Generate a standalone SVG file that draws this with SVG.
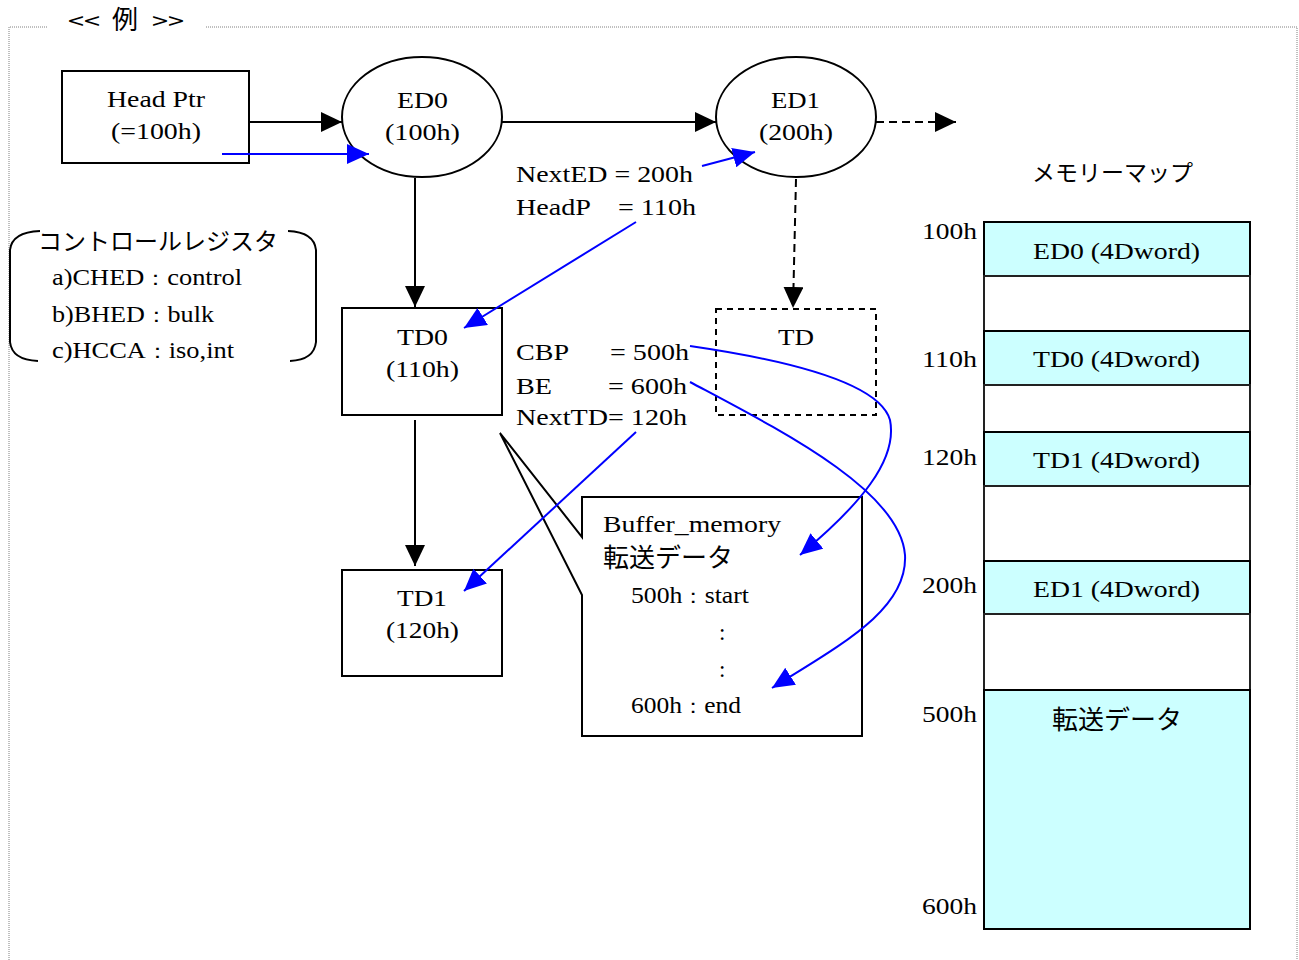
<svg xmlns="http://www.w3.org/2000/svg" width="1299" height="960" viewBox="0 0 1299 960">
<style>
.t{font-family:"Liberation Serif","Times New Roman",serif;font-size:23px;fill:#000}
.j{font-family:"Noto Sans CJK JP",sans-serif;fill:#000}
.c{font-size:20px}
.box{fill:#fff;stroke:#000;stroke-width:2}
.dbox{fill:none;stroke:#000;stroke-width:2;stroke-dasharray:6,5}
.bl{fill:none;stroke:#000;stroke-width:2}
.bu{fill:none;stroke:#0000ff;stroke-width:2}
.cy{fill:#ccffff;stroke:#000;stroke-width:2}
.wh{fill:#fff;stroke:#222;stroke-width:2}
</style>
<defs>
<marker id="ab" viewBox="0 0 21 20" refX="21" refY="10" markerWidth="21" markerHeight="20" markerUnits="userSpaceOnUse" orient="auto"><path d="M0,0 L21,10 L0,20 Z" fill="#000"/></marker>
<marker id="au" viewBox="0 0 22 20" refX="22" refY="10" markerWidth="22" markerHeight="20" markerUnits="userSpaceOnUse" orient="auto"><path d="M0,0 L22,10 L0,20 Z" fill="#0000ff"/></marker>
</defs>
<rect width="1299" height="960" fill="#fff"/>
<g id="frame">
<path d="M9,960 V27 H48 M206,27 H1297 V960" fill="none" stroke="#808080" stroke-width="1" stroke-dasharray="1,1"/>
<text class="j" x="68" y="29" font-size="22" textLength="32" lengthAdjust="spacingAndGlyphs">&lt;&lt;</text>
<text class="j" x="112" y="29" font-size="26">例</text>
<text class="j" x="152" y="29" font-size="22" textLength="32" lengthAdjust="spacingAndGlyphs">&gt;&gt;</text>
</g>
<g id="legend">
<path class="bl" d="M40,231 Q12,232 10,250 L10,342 Q12,360 38,361 M288,231 Q314,232 316,250 L316,342 Q314,360 290,361"/>
<text class="j" x="38" y="250" font-size="24">コントロールレジスタ</text>
<text class="t" x="52" y="285" textLength="190" lengthAdjust="spacingAndGlyphs">a)CHED<tspan class="c">：</tspan>control</text>
<text class="t" x="52" y="322" textLength="162" lengthAdjust="spacingAndGlyphs">b)BHED<tspan class="c">：</tspan>bulk</text>
<text class="t" x="52" y="358" textLength="182" lengthAdjust="spacingAndGlyphs">c)HCCA<tspan class="c">：</tspan>iso,int</text>
</g>
<g id="headptr">
<rect class="box" x="62" y="71" width="187" height="92"/>
<text class="t" x="107" y="107" textLength="98" lengthAdjust="spacingAndGlyphs">Head Ptr</text>
<text class="t" x="111" y="139" textLength="90" lengthAdjust="spacingAndGlyphs">(=100h)</text>
</g>
<g id="ed0">
<ellipse class="box" cx="422" cy="117" rx="80" ry="60"/>
<text class="t" x="397" y="108" textLength="51" lengthAdjust="spacingAndGlyphs">ED0</text>
<text class="t" x="385" y="140" textLength="75" lengthAdjust="spacingAndGlyphs">(100h)</text>
</g>
<g id="ed1">
<ellipse class="box" cx="796" cy="117" rx="80" ry="60"/>
<text class="t" x="771" y="108" textLength="49" lengthAdjust="spacingAndGlyphs">ED1</text>
<text class="t" x="759" y="140" textLength="74" lengthAdjust="spacingAndGlyphs">(200h)</text>
</g>
<g id="td0">
<rect class="box" x="342" y="308" width="160" height="107"/>
<text class="t" x="397" y="345" textLength="51" lengthAdjust="spacingAndGlyphs">TD0</text>
<text class="t" x="386" y="377" textLength="73" lengthAdjust="spacingAndGlyphs">(110h)</text>
</g>
<g id="td1">
<rect class="box" x="342" y="570" width="160" height="106"/>
<text class="t" x="397" y="606" textLength="50" lengthAdjust="spacingAndGlyphs">TD1</text>
<text class="t" x="386" y="638" textLength="73" lengthAdjust="spacingAndGlyphs">(120h)</text>
</g>
<g id="td">
<rect class="dbox" x="716" y="309" width="160" height="106"/>
<text class="t" x="778" y="345" textLength="36" lengthAdjust="spacingAndGlyphs">TD</text>
</g>
<g id="fields">
<text class="t" x="516" y="182" textLength="177" lengthAdjust="spacingAndGlyphs">NextED = 200h</text>
<text class="t" x="516" y="215" textLength="75" lengthAdjust="spacingAndGlyphs">HeadP</text>
<text class="t" x="618" y="215" textLength="78" lengthAdjust="spacingAndGlyphs">= 110h</text>
<text class="t" x="516" y="360" textLength="53" lengthAdjust="spacingAndGlyphs">CBP</text>
<text class="t" x="610" y="360" textLength="79" lengthAdjust="spacingAndGlyphs">= 500h</text>
<text class="t" x="516" y="394" textLength="36" lengthAdjust="spacingAndGlyphs">BE</text>
<text class="t" x="608" y="394" textLength="79" lengthAdjust="spacingAndGlyphs">= 600h</text>
<text class="t" x="516" y="425" textLength="171" lengthAdjust="spacingAndGlyphs">NextTD= 120h</text>
</g>
<g id="buffer">
<path class="box" d="M582,497 H862 V736 H582 V595 L500,433 L582,537 Z"/>
<text class="t" x="603" y="532" textLength="178" lengthAdjust="spacingAndGlyphs">Buffer_memory</text>
<text class="j" x="603" y="567" font-size="26">転送データ</text>
<text class="t" x="631" y="603" textLength="118" lengthAdjust="spacingAndGlyphs">500h<tspan class="c">：</tspan>start</text>
<text class="t" x="719" y="640" font-size="26">:</text>
<text class="t" x="719" y="677" font-size="26">:</text>
<text class="t" x="631" y="713" textLength="110" lengthAdjust="spacingAndGlyphs">600h<tspan class="c">：</tspan>end</text>
</g>
<g id="memmap">
<text class="j" x="1032" y="181" font-size="23">メモリーマップ</text>
<rect class="cy" x="984" y="222" width="266" height="54"/>
<rect class="wh" x="984" y="276" width="266" height="55"/>
<rect class="cy" x="984" y="331" width="266" height="54"/>
<rect class="wh" x="984" y="385" width="266" height="47"/>
<rect class="cy" x="984" y="432" width="266" height="54"/>
<rect class="wh" x="984" y="486" width="266" height="75"/>
<rect class="cy" x="984" y="561" width="266" height="53"/>
<rect class="wh" x="984" y="614" width="266" height="76"/>
<rect class="cy" x="984" y="690" width="266" height="239"/>
<text class="t" x="1033" y="259" textLength="167" lengthAdjust="spacingAndGlyphs">ED0 (4Dword)</text>
<text class="t" x="1033" y="367" textLength="167" lengthAdjust="spacingAndGlyphs">TD0 (4Dword)</text>
<text class="t" x="1033" y="468" textLength="167" lengthAdjust="spacingAndGlyphs">TD1 (4Dword)</text>
<text class="t" x="1033" y="597" textLength="167" lengthAdjust="spacingAndGlyphs">ED1 (4Dword)</text>
<text class="j" x="1052" y="729" font-size="26">転送データ</text>
<text class="t" x="922" y="239" textLength="55" lengthAdjust="spacingAndGlyphs">100h</text>
<text class="t" x="922" y="367" textLength="55" lengthAdjust="spacingAndGlyphs">110h</text>
<text class="t" x="922" y="465" textLength="55" lengthAdjust="spacingAndGlyphs">120h</text>
<text class="t" x="922" y="593" textLength="55" lengthAdjust="spacingAndGlyphs">200h</text>
<text class="t" x="922" y="722" textLength="55" lengthAdjust="spacingAndGlyphs">500h</text>
<text class="t" x="922" y="914" textLength="55" lengthAdjust="spacingAndGlyphs">600h</text>
</g>
<g id="connectors">
<path class="bl" d="M249,122 H342" marker-end="url(#ab)"/>
<path class="bl" d="M502,122 H716" marker-end="url(#ab)"/>
<path class="bl" d="M876,122 H956" stroke-dasharray="8,5" marker-end="url(#ab)"/>
<path class="bl" d="M415,178 V307" marker-end="url(#ab)"/>
<path class="bl" d="M415,420 V566" marker-end="url(#ab)"/>
<path class="bl" d="M796,179 L793,308" stroke-dasharray="8,5" marker-end="url(#ab)"/>
<path class="bu" d="M222,154 H369" marker-end="url(#au)"/>
<path class="bu" d="M702,166 L755,152" marker-end="url(#au)"/>
<path class="bu" d="M636,222 L464,328" marker-end="url(#au)"/>
<path class="bu" d="M636,432 L464,591" marker-end="url(#au)"/>
<path class="bu" d="M690,346 C800,362 880,385 890,420 C898,460 860,505 800,555" marker-end="url(#au)"/>
<path class="bu" d="M690,382 C780,430 900,490 905,555 C908,610 840,645 772,688" marker-end="url(#au)"/>
</g>
</svg>
